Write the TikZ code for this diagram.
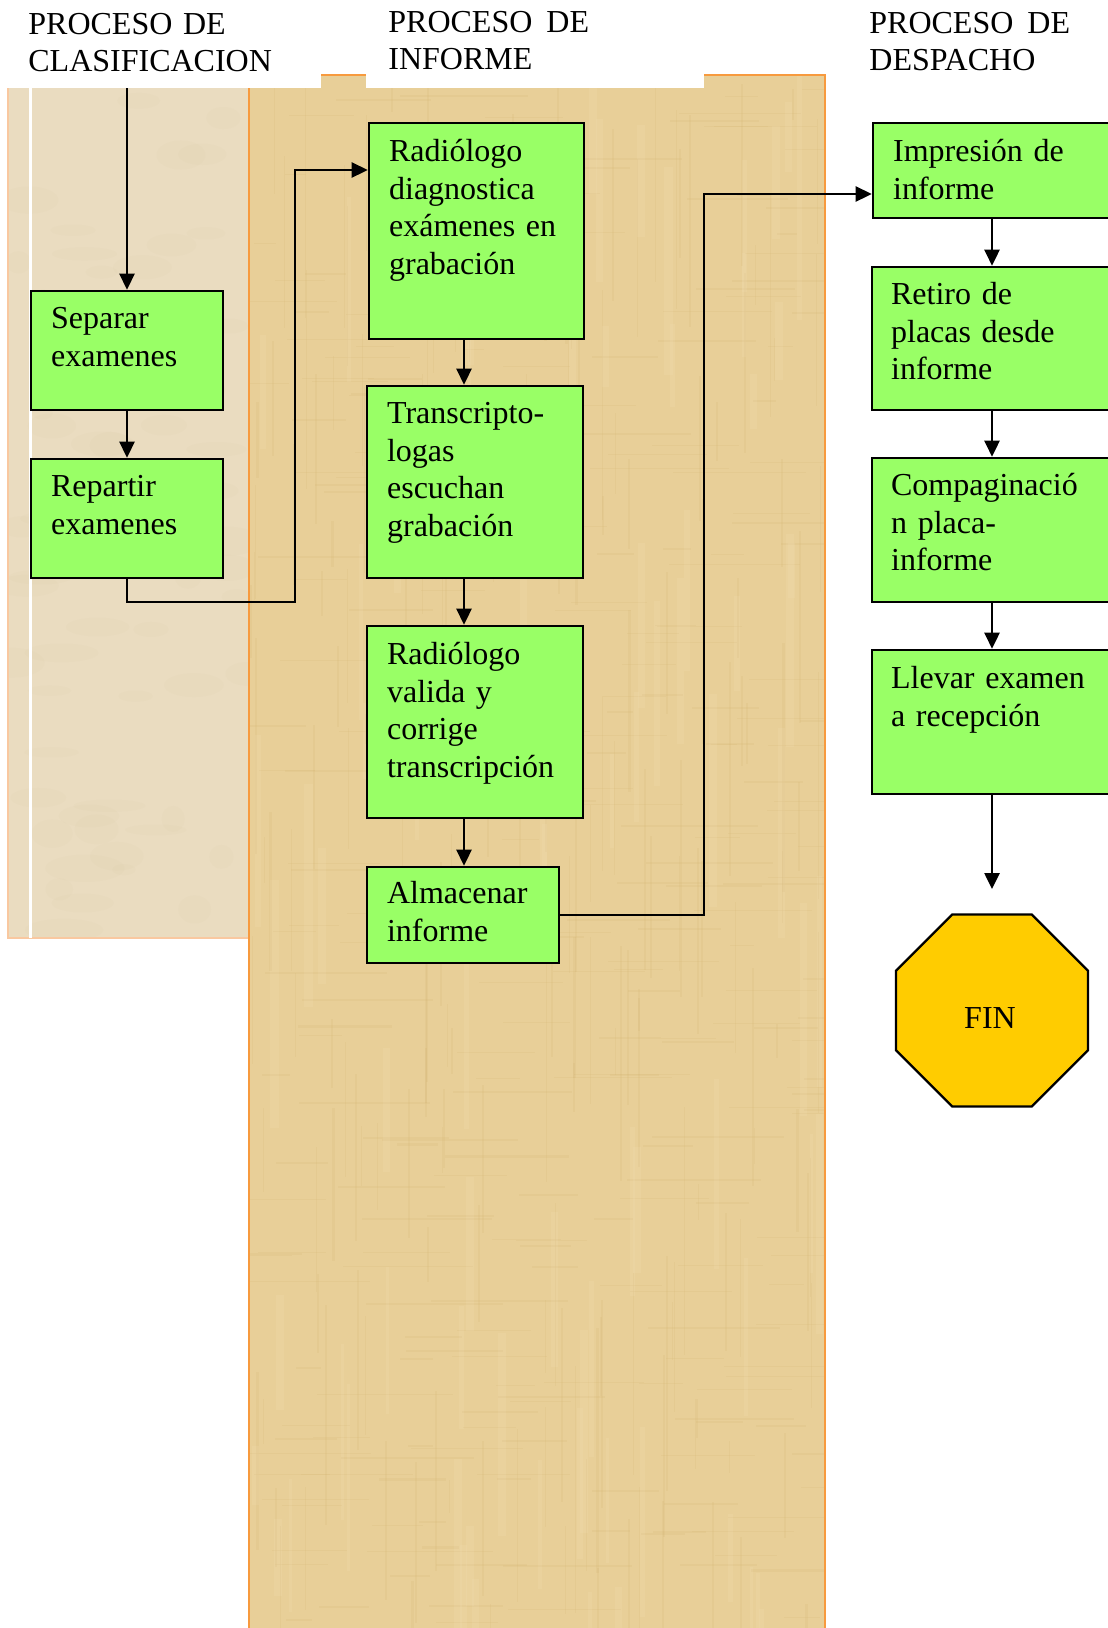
\documentclass[tikz,border=0pt]{standalone}
\usepackage{fontspec}
\setmainfont{Liberation Serif}
\usetikzlibrary{arrows.meta,fit,shapes.geometric,calc}

\definecolor{boxgreen}{HTML}{99FF66}
\definecolor{finyellow}{HTML}{FFCC00}
\definecolor{papyrus}{HTML}{E8CF98}
\definecolor{papyrusdark}{HTML}{C8A45C}
\definecolor{papyruslight}{HTML}{F6E4BC}
\definecolor{marble}{HTML}{EADCC0}
\definecolor{marbledark}{HTML}{D8C6A2}
\definecolor{laneedge}{HTML}{F79A3E}
\definecolor{laneedgesoft}{HTML}{F9C8A0}

\begin{document}
\begin{tikzpicture}[x=0.5pt,y=-0.5pt,
  every node/.style={font=\fontsize{16}{18.75}\selectfont},
  stepbox/.style={draw=black, line width=1.3pt, fill=boxgreen, inner sep=0pt},
  lbl/.style={anchor=base west, inner sep=0pt, align=left, text width=125pt},
  ttl/.style={anchor=base west, inner sep=0pt, align=left, text width=150pt},
  flow/.style={draw=black, line width=1.3pt, -{Triangle[length=8pt,width=7.5pt]}},
  stopsign/.style={draw=black, line width=1.2pt, fill=finyellow, regular polygon,
    regular polygon sides=8, minimum size=103.9pt, inner sep=0pt},
]
\useasboundingbox (0,0) rectangle (1108,1628);
\fill[white] (0,0) rectangle (1108,1628);

% ---- lane: clasificacion (marble) ----
\fill[marble] (8,88) rectangle (249,938);
\begin{scope}
  \clip (8,88) rectangle (249,938);
  \pgfmathsetseed{5}
  \foreach \i in {1,...,70} {
    \pgfmathsetmacro{\cx}{8+241*rnd}
    \pgfmathsetmacro{\cy}{88+850*rnd}
    \pgfmathsetmacro{\rx}{10+30*rnd}
    \pgfmathsetmacro{\ry}{5+10*rnd}
    \fill[marbledark, opacity=0.09] (\cx,\cy) ellipse [x radius=\rx, y radius=\ry];
  }
\end{scope}
\draw[laneedgesoft, line width=0.75pt] (8,88) -- (8,938) -- (249,938);
\draw[white, line width=1.5pt] (30,88) -- (30,938);

% ---- lane: informe (papyrus) ----
\fill[papyrus] (249,75) rectangle (825,1640);
\begin{scope}
  \clip (249,75) rectangle (825,1640);
  \pgfmathsetseed{11}
  \foreach \i in {1,...,200} {
    \pgfmathsetmacro{\xx}{249+576*rnd}
    \pgfmathsetmacro{\ww}{0.6+2*rnd}
    \pgfmathsetmacro{\yy}{60+1560*rnd}
    \pgfmathsetmacro{\hh}{30+220*rnd}
    \fill[papyrusdark, opacity=0.11] (\xx,\yy) rectangle ++(\ww,\hh);
  }
  \foreach \i in {1,...,300} {
    \pgfmathsetmacro{\xx}{230+576*rnd}
    \pgfmathsetmacro{\ww}{20+120*rnd}
    \pgfmathsetmacro{\yy}{75+1560*rnd}
    \pgfmathsetmacro{\hh}{0.6+1.6*rnd}
    \fill[papyrusdark, opacity=0.10] (\xx,\yy) rectangle ++(\ww,\hh);
  }
  \foreach \i in {1,...,80} {
    \pgfmathsetmacro{\xx}{249+576*rnd}
    \pgfmathsetmacro{\ww}{3+6*rnd}
    \pgfmathsetmacro{\yy}{60+1560*rnd}
    \pgfmathsetmacro{\hh}{50+200*rnd}
    \fill[papyruslight, opacity=0.15] (\xx,\yy) rectangle ++(\ww,\hh);
  }
\end{scope}
\draw[laneedge, line width=1pt] (249,1640) -- (249,75) -- (825,75) -- (825,1640);

% white title areas over the lane tops
\fill[white] (0,0) rectangle (321,88);
\fill[white] (366,0) rectangle (704,88);

% ---- lane titles ----
\node[ttl] (tclas) at (28,34) {PROCESO DE\\CLASIFICACION};
\node[ttl] (tinf) at (388,32) {PROCESO\hspace{7pt}DE\\INFORME};
\node[ttl] (tdesp) at (869,33) {PROCESO\hspace{7pt}DE\\DESPACHO};

% ---- process steps ----
\node[stepbox, fit={(31,291) (223,410)}] (sep) {};
\node[lbl] (sepT) at ($(sep.north west)+(21,39)$) {Separar\\examenes};
\node[stepbox, fit={(31,459) (223,578)}] (rep) {};
\node[lbl] (repT) at ($(rep.north west)+(21,39)$) {Repartir\\examenes};

\node[stepbox, fit={(369,123) (584,339)}] (rd) {};
\node[lbl] (rdT) at ($(rd.north west)+(21,40)$) {Radiólogo\\diagnostica\\exámenes en\\grabación};
\node[stepbox, fit={(367,386) (583,578)}] (tr) {};
\node[lbl] (trT) at ($(tr.north west)+(21,39)$) {Transcripto-\\logas\\escuchan\\grabación};
\node[stepbox, fit={(367,626) (583,818)}] (rv) {};
\node[lbl] (rvT) at ($(rv.north west)+(21,40)$) {Radiólogo\\valida y\\corrige\\transcripción};
\node[stepbox, fit={(367,867) (559,963)}] (alm) {};
\node[lbl] (almT) at ($(alm.north west)+(21,38)$) {Almacenar\\informe};

\node[stepbox, fit={(873,123) (1130,218)}] (imp) {};
\node[lbl] (impT) at ($(imp.north west)+(21,40)$) {Impresión de\\informe};
\node[stepbox, fit={(872,267) (1130,410)}] (ret) {};
\node[lbl] (retT) at ($(ret.north west)+(20,39)$) {Retiro de\\placas desde\\informe};
\node[stepbox, fit={(872,458) (1130,602)}] (comp) {};
\node[lbl] (compT) at ($(comp.north west)+(20,39)$) {Compaginació\\n placa-\\informe};
\node[stepbox, fit={(872,650) (1130,794)}] (llev) {};
\node[lbl] (llevT) at ($(llev.north west)+(20,40)$) {Llevar examen\\a recepción};

\node[stopsign] (fin) at (992,1010.5) {};
\node[anchor=base, inner sep=0pt] (finT) at (990,1028) {FIN};

% ---- connectors ----
\coordinate (entry) at (127,88);
\coordinate (colB) at (464,0);
\coordinate (colC) at (992,0);
\coordinate (r1) at (295,602);
\coordinate (r2) at (295,170);
\coordinate (a1) at (704,194);
\coordinate (finarrow) at (992,889);

\draw[flow] (entry) -- (sep.north);
\draw[flow] (sep) -- (rep);
\draw[flow] (rep.south) |- (r1) -- (r2) -- (rd.west |- r2);

\draw[flow] (rd.south -| colB) -- (tr.north -| colB);
\draw[flow] (tr.south -| colB) -- (rv.north -| colB);
\draw[flow] (rv.south -| colB) -- (alm.north -| colB);
\draw[flow] (alm.east) -| (a1) -- (imp.west |- a1);

\draw[flow] (imp.south -| colC) -- (ret.north -| colC);
\draw[flow] (ret.south -| colC) -- (comp.north -| colC);
\draw[flow] (comp.south -| colC) -- (llev.north -| colC);
\draw[flow] (llev.south -| colC) -- (finarrow);
\end{tikzpicture}
\end{document}
